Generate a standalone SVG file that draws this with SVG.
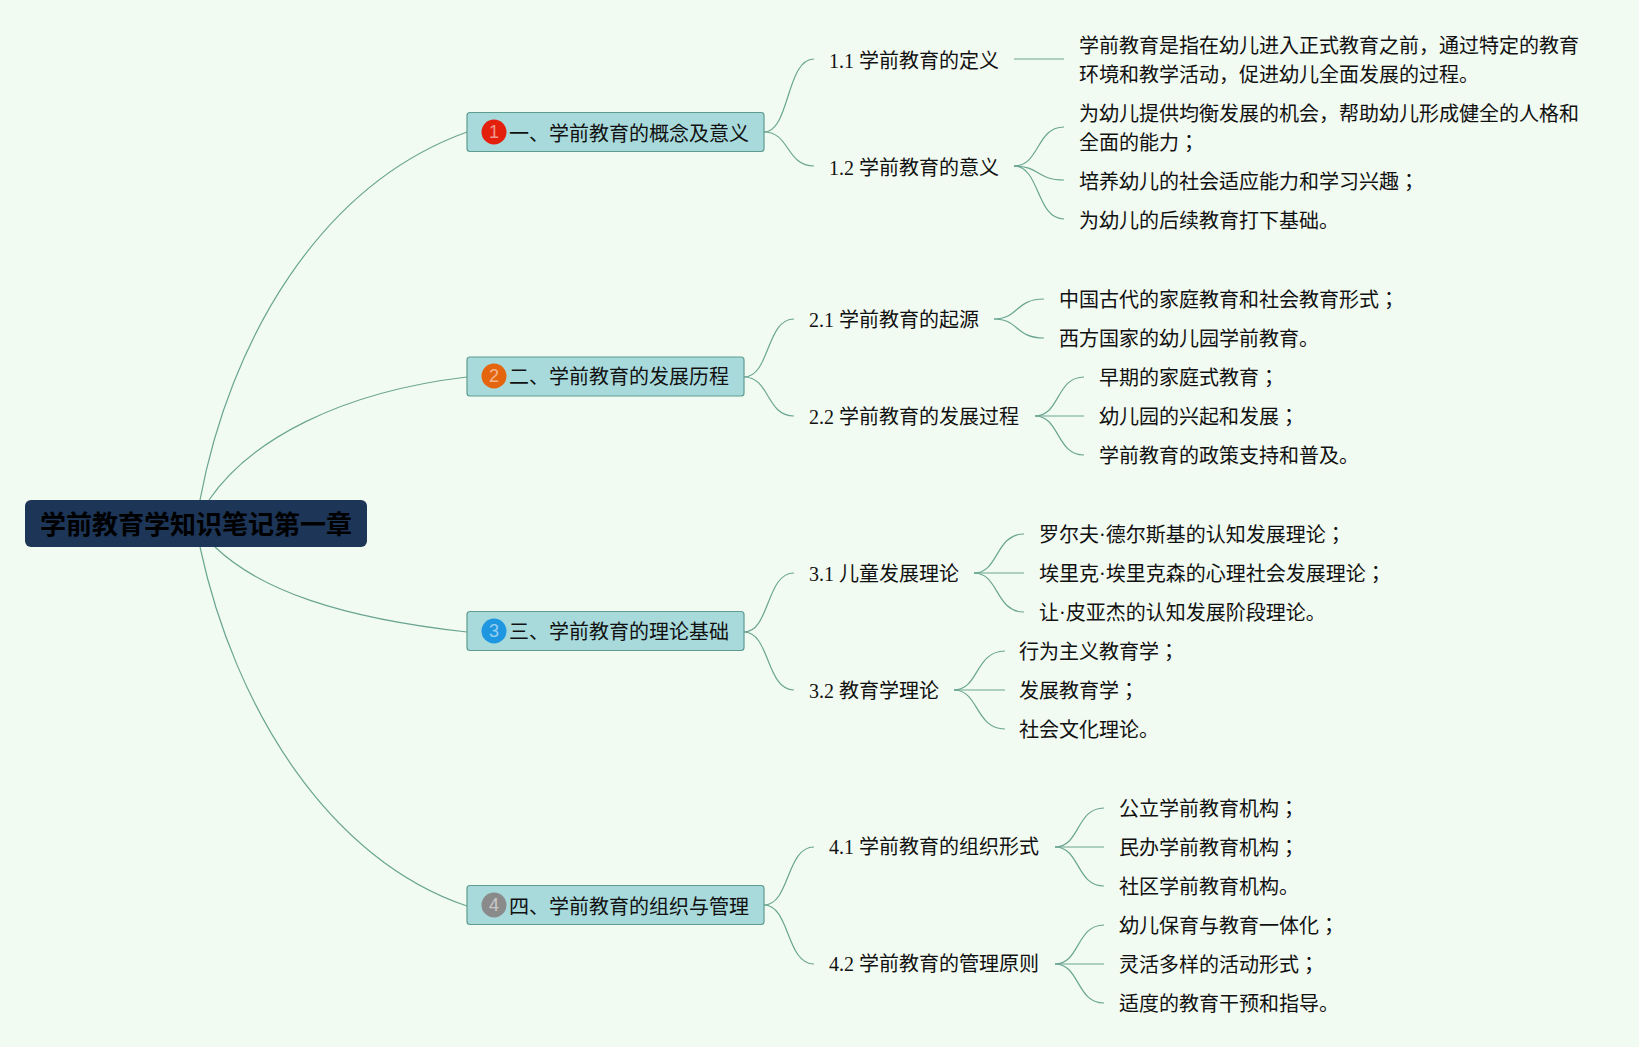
<svg xmlns="http://www.w3.org/2000/svg" width="1639" height="1047" viewBox="0 0 1639 1047">
<style>
text{font-family:"Liberation Serif","Noto Sans CJK JP",sans-serif;font-size:20px;fill:#111}
.c{fill:none;stroke:#6aa592;stroke-width:1.2}
.t{fill:#a8dadc;stroke:#5f9c90;stroke-width:1.2}
.r{fill:#1d3557}
.rt{font-family:"Noto Sans CJK JP",sans-serif;font-size:26px;font-weight:700;fill:#000}
.n{font-family:"Liberation Sans",sans-serif;font-size:18px;fill:#fff;fill-opacity:.55;text-anchor:middle}
</style>
<rect width="1639" height="1047" fill="#f2fbf1"/>
<g id="connectors">
<path class="c" d="M200 500C230 340 320 185 467 132"/>
<path class="c" d="M209 500C250 440 340 392 467 377"/>
<path class="c" d="M215 547C260 590 340 618 467 632"/>
<path class="c" d="M200 547C235 710 330 860 467 906"/>
<path class="c" d="M764 132C790 132 786 59 814 59"/>
<path class="c" d="M764 132C790 132 786 166 814 166"/>
<path class="c" d="M744 377C770 377 766 319 794 319"/>
<path class="c" d="M744 377C770 377 766 416 794 416"/>
<path class="c" d="M744 632C770 632 766 573 794 573"/>
<path class="c" d="M744 632C770 632 766 690 794 690"/>
<path class="c" d="M764 905C790 905 786 847 814 847"/>
<path class="c" d="M764 905C790 905 786 964 814 964"/>
<path class="c" d="M1014 59H1064"/>
<path class="c" d="M1014 166C1040 166 1036 127 1064 127"/>
<path class="c" d="M1014 166C1040 166 1036 180 1064 180"/>
<path class="c" d="M1014 166C1040 166 1036 219 1064 219"/>
<path class="c" d="M994 319C1019 319 1015 299 1044 299"/>
<path class="c" d="M994 319C1019 319 1015 338 1044 338"/>
<path class="c" d="M1035 416C1060 416 1056 377 1084 377"/>
<path class="c" d="M1035 416H1084"/>
<path class="c" d="M1035 416C1060 416 1056 455 1084 455"/>
<path class="c" d="M974 573C999 573 995 534 1024 534"/>
<path class="c" d="M974 573H1024"/>
<path class="c" d="M974 573C999 573 995 612 1024 612"/>
<path class="c" d="M954 690C979 690 975 651 1005 651"/>
<path class="c" d="M954 690H1005"/>
<path class="c" d="M954 690C979 690 975 729 1005 729"/>
<path class="c" d="M1055 847C1080 847 1076 808 1104 808"/>
<path class="c" d="M1055 847H1104"/>
<path class="c" d="M1055 847C1080 847 1076 886 1104 886"/>
<path class="c" d="M1055 964C1080 964 1076 925 1104 925"/>
<path class="c" d="M1055 964H1104"/>
<path class="c" d="M1055 964C1080 964 1076 1003 1104 1003"/>
</g>
<g id="root"><rect class="r" x="25" y="500" width="342" height="47" rx="6"/><text class="rt" x="40" y="534">学前教育学知识笔记第一章</text></g>
<g id="n1"><rect class="t" x="467" y="112.500" width="297" height="39" rx="3"/><circle cx="494" cy="132" r="12.500" fill="#e2200c"/><text class="n" x="494" y="138">1</text><text x="509" y="141">一、学前教育的概念及意义</text></g>
<g id="n2"><rect class="t" x="467" y="357" width="277" height="39" rx="3"/><circle cx="494" cy="376" r="12.500" fill="#e5650f"/><text class="n" x="494" y="382">2</text><text x="509" y="384">二、学前教育的发展历程</text></g>
<g id="n3"><rect class="t" x="467" y="611.500" width="277" height="39" rx="3"/><circle cx="494" cy="631" r="12.500" fill="#1f97e0"/><text class="n" x="494" y="637">3</text><text x="509" y="639">三、学前教育的理论基础</text></g>
<g id="n4"><rect class="t" x="467" y="885.500" width="297" height="39" rx="3"/><circle cx="494" cy="905" r="12.500" fill="#8a8a8a"/><text class="n" x="494" y="911">4</text><text x="509" y="914">四、学前教育的组织与管理</text></g>
<g id="n11"><text x="829" y="68">1.1 学前教育的定义</text></g>
<g id="n12"><text x="829" y="175">1.2 学前教育的意义</text></g>
<g id="n21"><text x="809" y="327">2.1 学前教育的起源</text></g>
<g id="n22"><text x="809" y="424">2.2 学前教育的发展过程</text></g>
<g id="n31"><text x="809" y="581">3.1 儿童发展理论</text></g>
<g id="n32"><text x="809" y="698">3.2 教育学理论</text></g>
<g id="n41"><text x="829" y="854">4.1 学前教育的组织形式</text></g>
<g id="n42"><text x="829" y="971">4.2 学前教育的管理原则</text></g>
<g id="l111"><text x="1079" y="53">学前教育是指在幼儿进入正式教育之前，通过特定的教育</text><text x="1079" y="82">环境和教学活动，促进幼儿全面发展的过程。</text></g>
<g id="l121"><text x="1079" y="121">为幼儿提供均衡发展的机会，帮助幼儿形成健全的人格和</text><text x="1079" y="150">全面的能力；</text></g>
<g id="l122"><text x="1079" y="189">培养幼儿的社会适应能力和学习兴趣；</text></g>
<g id="l123"><text x="1079" y="228">为幼儿的后续教育打下基础。</text></g>
<g id="l211"><text x="1059" y="307">中国古代的家庭教育和社会教育形式；</text></g>
<g id="l212"><text x="1059" y="346">西方国家的幼儿园学前教育。</text></g>
<g id="l221"><text x="1099" y="385">早期的家庭式教育；</text></g>
<g id="l222"><text x="1099" y="424">幼儿园的兴起和发展；</text></g>
<g id="l223"><text x="1099" y="463">学前教育的政策支持和普及。</text></g>
<g id="l311"><text x="1039" y="542">罗尔夫·德尔斯基的认知发展理论；</text></g>
<g id="l312"><text x="1039" y="581">埃里克·埃里克森的心理社会发展理论；</text></g>
<g id="l313"><text x="1039" y="620">让·皮亚杰的认知发展阶段理论。</text></g>
<g id="l321"><text x="1019" y="659">行为主义教育学；</text></g>
<g id="l322"><text x="1019" y="698">发展教育学；</text></g>
<g id="l323"><text x="1019" y="737">社会文化理论。</text></g>
<g id="l411"><text x="1119" y="816">公立学前教育机构；</text></g>
<g id="l412"><text x="1119" y="855">民办学前教育机构；</text></g>
<g id="l413"><text x="1119" y="894">社区学前教育机构。</text></g>
<g id="l421"><text x="1119" y="933">幼儿保育与教育一体化；</text></g>
<g id="l422"><text x="1119" y="972">灵活多样的活动形式；</text></g>
<g id="l423"><text x="1119" y="1011">适度的教育干预和指导。</text></g>
</svg>
